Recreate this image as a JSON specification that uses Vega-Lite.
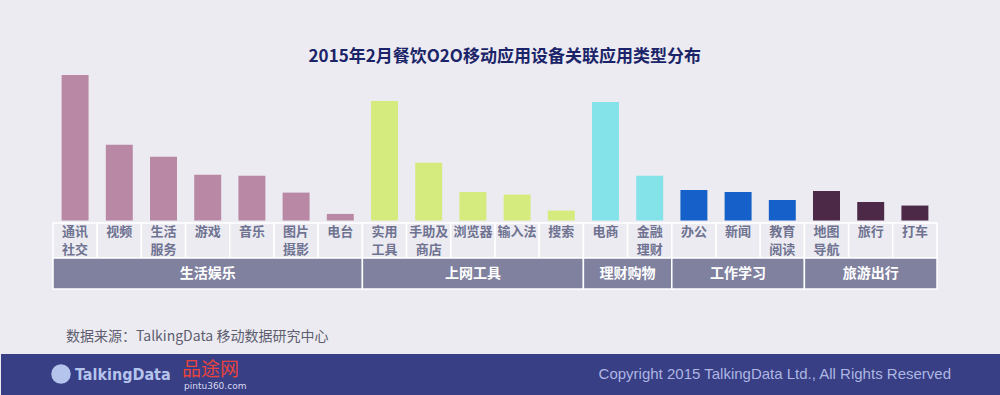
{
  "$schema": "https://vega.github.io/schema/vega-lite/v6.json",
  "background": "#ECEBF1",
  "padding": {"top": 48, "left": 0, "right": 0, "bottom": 0},
  "bounds": "flush",
  "title": {
    "text": "2015年2月餐饮O2O移动应用设备关联应用类型分布",
    "font": "Noto Sans CJK SC",
    "fontSize": 17,
    "fontWeight": "bold",
    "color": "#1B2468",
    "anchor": "middle",
    "offset": 9,
    "dx": 4
  },
  "config": {
    "view": {"stroke": null},
    "font": "Noto Sans CJK SC",
    "concat": {"spacing": 0}
  },
  "spacing": 0,
  "resolve": {"scale": {"x": "independent", "y": "independent", "color": "independent"}},
  "datasets": {
    "apps": [
      {"app": "通讯社交", "label": "通讯\n社交", "group": "生活娱乐", "value": 73},
      {"app": "视频", "label": "视频", "group": "生活娱乐", "value": 38},
      {"app": "生活服务", "label": "生活\n服务", "group": "生活娱乐", "value": 32},
      {"app": "游戏", "label": "游戏", "group": "生活娱乐", "value": 23},
      {"app": "音乐", "label": "音乐", "group": "生活娱乐", "value": 22.5},
      {"app": "图片摄影", "label": "图片\n摄影", "group": "生活娱乐", "value": 14},
      {"app": "电台", "label": "电台", "group": "生活娱乐", "value": 3.3},
      {"app": "实用工具", "label": "实用\n工具", "group": "上网工具", "value": 60},
      {"app": "手助及商店", "label": "手助及\n商店", "group": "上网工具", "value": 29},
      {"app": "浏览器", "label": "浏览器", "group": "上网工具", "value": 14.3},
      {"app": "输入法", "label": "输入法", "group": "上网工具", "value": 13},
      {"app": "搜索", "label": "搜索", "group": "上网工具", "value": 5},
      {"app": "电商", "label": "电商", "group": "理财购物", "value": 59.5},
      {"app": "金融理财", "label": "金融\n理财", "group": "理财购物", "value": 22.5},
      {"app": "办公", "label": "办公", "group": "工作学习", "value": 15.3},
      {"app": "新闻", "label": "新闻", "group": "工作学习", "value": 14.3},
      {"app": "教育阅读", "label": "教育\n阅读", "group": "工作学习", "value": 10.3},
      {"app": "地图导航", "label": "地图\n导航", "group": "旅游出行", "value": 14.8},
      {"app": "旅行", "label": "旅行", "group": "旅游出行", "value": 9.3},
      {"app": "打车", "label": "打车", "group": "旅游出行", "value": 7.5}
    ],
    "groups": [
      {"group": "生活娱乐", "start": 0, "end": 7},
      {"group": "上网工具", "start": 7, "end": 12},
      {"group": "理财购物", "start": 12, "end": 14},
      {"group": "工作学习", "start": 14, "end": 17},
      {"group": "旅游出行", "start": 17, "end": 20}
    ]
  },
  "vconcat": [
    {
      "width": 1000,
      "height": 148,
      "data": {"name": "apps"},
      "mark": {"type": "bar"},
      "encoding": {
        "x": {"field": "app", "type": "nominal", "sort": null, "axis": null,
              "scale": {"range": [52, 936], "paddingInner": 0.39, "paddingOuter": 0.195, "round": false}},
        "y": {"field": "value", "type": "quantitative", "axis": null,
              "scale": {"domain": [-1.25, 73], "nice": false, "zero": false}},
        "color": {"field": "group", "type": "nominal", "legend": null,
                  "scale": {"domain": ["生活娱乐", "上网工具", "理财购物", "工作学习", "旅游出行"],
                            "range": ["#B888A5", "#D5EB7D", "#84E3E9", "#1560C9", "#4B2947"]}}
      }
    },
    {
      "width": 1000,
      "height": 35,
      "data": {"name": "apps"},
      "encoding": {
        "x": {"field": "app", "type": "nominal", "sort": null, "axis": null,
              "scale": {"range": [52, 936], "paddingInner": 0, "paddingOuter": 0, "round": false}}
      },
      "layer": [
        {"mark": {"type": "rect", "fill": "#ECEBF1", "stroke": "#FFFFFF", "strokeWidth": 1.5}},
        {"mark": {"type": "text", "baseline": "top", "dy": -15, "lineBreak": "\n", "lineHeight": 18.5,
                  "fontSize": 13, "fontWeight": "bold", "color": "#6F7391", "font": "Noto Sans CJK SC"},
         "encoding": {"text": {"field": "label", "type": "nominal"}}}
      ]
    },
    {
      "width": 1000,
      "height": 31,
      "data": {"name": "groups"},
      "layer": [
        {"mark": {"type": "rect", "fill": "#7F819F", "stroke": "#FFFFFF", "strokeWidth": 1.5},
         "encoding": {
           "x": {"field": "start", "type": "quantitative", "axis": null,
                 "scale": {"domain": [0, 20], "range": [52, 936], "nice": false, "zero": false}},
           "x2": {"field": "end"}
         }},
        {"transform": [{"fold": ["start", "end"], "as": ["edge", "pos"]}],
         "mark": {"type": "text", "fontSize": 14, "fontWeight": "bold", "color": "#FFFFFF", "baseline": "middle",
                  "font": "Noto Sans CJK SC"},
         "encoding": {
           "x": {"aggregate": "mean", "field": "pos", "type": "quantitative", "axis": null},
           "text": {"field": "group", "type": "nominal"}
         }}
      ]
    },
    {
      "width": 1000,
      "height": 65,
      "data": {"values": [{"text": "数据来源：TalkingData 移动数据研究中心"}]},
      "mark": {"type": "text", "x": 65, "y": 48, "align": "left", "baseline": "middle",
               "fontSize": 14, "color": "#5E5E70", "font": "Noto Sans CJK SC"},
      "encoding": {"text": {"field": "text", "type": "nominal"}}
    },
    {
      "width": 1000,
      "height": 42,
      "view": {"fill": "#383F85", "stroke": null},
      "data": {"values": [{}]},
      "layer": [
        {"mark": {"type": "point", "shape": "circle", "filled": true, "opacity": 1, "x": 60, "y": 20, "size": 380, "color": "#B5C4EC"},
         "encoding": {}},
        {"mark": {"type": "text", "text": "TalkingData", "x": 74, "y": 21, "align": "left", "baseline": "middle",
                  "fontSize": 16, "fontWeight": "bold", "font": "DejaVu Sans Condensed", "color": "#B5C4EC"},
         "encoding": {}},
        {"mark": {"type": "rule", "x": 173.5, "y": 5, "y2": 35, "color": "#FFFFFF", "strokeWidth": 1.5},
         "encoding": {}},
        {"mark": {"type": "text", "text": "品途网", "x": 181, "y": 16, "align": "left", "baseline": "middle",
                  "fontSize": 19, "font": "Noto Sans CJK SC", "color": "#E8433C"},
         "encoding": {}},
        {"mark": {"type": "text", "text": "pintu360.com", "x": 183, "y": 32, "align": "left", "baseline": "middle",
                  "fontSize": 9, "font": "DejaVu Sans", "color": "#D8DAF0"},
         "encoding": {}},
        {"mark": {"type": "text", "text": "Copyright 2015 TalkingData Ltd., All Rights Reserved", "x": 950, "y": 20,
                  "align": "right", "baseline": "middle", "fontSize": 15, "font": "Liberation Sans", "color": "#AEB6E2"},
         "encoding": {}}
      ]
    }
  ]
}
